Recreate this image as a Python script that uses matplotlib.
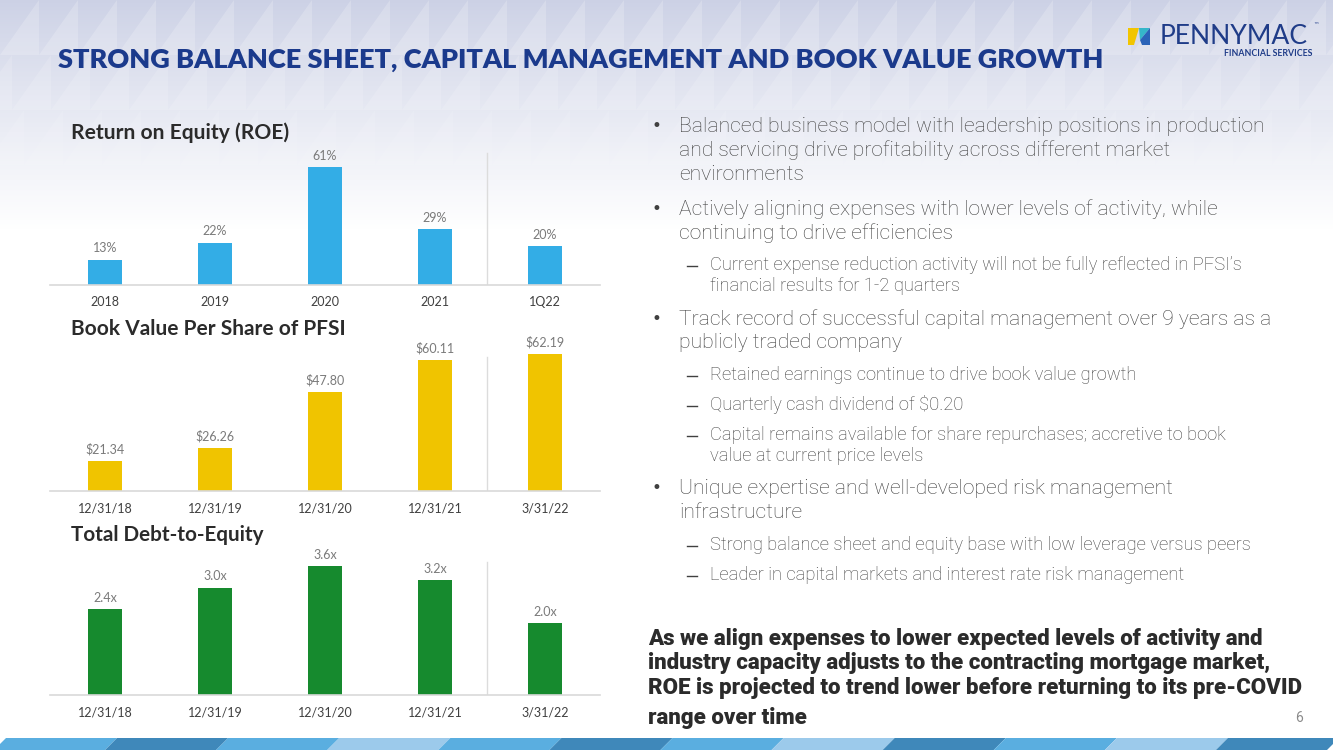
import numpy as np
import matplotlib.pyplot as plt
from matplotlib.patches import Polygon, Rectangle

# chart data
roe_labels = ['2018', '2019', '2020', '2021', '1Q22']
roe_values = [13, 22, 61, 29, 20]

bv_labels = ['12/31/18', '12/31/19', '12/31/20', '12/31/21', '3/31/22']
bv_values = [21.34, 26.26, 47.80, 60.11, 62.19]

de_labels = ['12/31/18', '12/31/19', '12/31/20', '12/31/21', '3/31/22']
de_values = [2.4, 3.0, 3.6, 3.2, 2.0]

title = 'STRONG BALANCE SHEET, CAPITAL MANAGEMENT AND BOOK VALUE GROWTH'

bullets = [
    (0, ['Balanced business model with leadership positions in production',
         'and servicing drive profitability across different market',
         'environments'], [126, 150, 175]),
    (0, ['Actively aligning expenses with lower levels of activity, while',
         'continuing to drive efficiencies'], [209, 233]),
    (1, ['Current expense reduction activity will not be fully reflected in PFSI\u2019s',
         'financial results for 1-2 quarters'], [265, 286]),
    (0, ['Track record of successful capital management over 9 years as a',
         'publicly traded company'], [319, 343]),
    (1, ['Retained earnings continue to drive book value growth'], [375]),
    (1, ['Quarterly cash dividend of $0.20'], [405]),
    (1, ['Capital remains available for share repurchases; accretive to book',
         'value at current price levels'], [435, 456]),
    (0, ['Unique expertise and well-developed risk management',
         'infrastructure'], [488, 513]),
    (1, ['Strong balance sheet and equity base with low leverage versus peers'], [545]),
    (1, ['Leader in capital markets and interest rate risk management'], [575]),
]

closing = ['As we align expenses to lower expected levels of activity and',
           'industry capacity adjusts to the contracting mortgage market,',
           'ROE is projected to trend lower before returning to its pre-COVID',
           'range over time']
closing_y = [639, 663, 688, 718]

W, H = 1333, 750
fig = plt.figure(figsize=(W / 100, H / 100), dpi=100)
renderer = fig.canvas.get_renderer()


def fit(t, width):
    w = t.get_window_extent(renderer=renderer).width
    t.set_fontsize(t.get_fontsize() * width / w)
    return t.get_fontsize()


# background layer in pixel coordinates
bg = fig.add_axes([0, 0, 1, 1], zorder=0)
bg.set_xlim(0, W)
bg.set_ylim(H, 0)
bg.axis('off')

grad = np.linspace(0, 1, 230)[:, None]
top_col = np.array([0.80, 0.82, 0.90])
img = top_col + (1 - top_col) * np.clip(grad ** 0.9, 0, 1)[..., None]
img = np.repeat(img, 2, axis=1)
bg.imshow(img, extent=[0, W, 230, 0], aspect='auto', zorder=0)
bg.add_patch(Rectangle((0, 230), W, H - 230, color='white', zorder=0))

# faint triangle pattern in the header
tw, th = 39, 55
for row in range(4):
    for i in range(-2, W // tw + 3):
        x = i * tw + row * 12
        y = row * th
        a = 0.4 * (1 - row / 4)
        bg.add_patch(Polygon([(x, y + th), (x + tw, y), (x + tw, y + th)],
                             closed=True, color='white', alpha=a * 0.5,
                             lw=0, zorder=1))

# bottom band
band_cols = ['#5aaee0', '#3f88ba', '#5aaee0', '#9ccaeb', '#5aaee0', '#3f88ba',
             '#5aaee0', '#9ccaeb', '#3f88ba', '#5aaee0', '#9ccaeb', '#3f88ba']
seg = W / len(band_cols)
for i, c in enumerate(band_cols):
    x0 = i * seg
    bg.add_patch(Polygon([(x0 - 6, 750), (x0 + 6, 738), (x0 + seg + 6, 738),
                          (x0 + seg - 6, 750)], closed=True, color=c, lw=0, zorder=2))

# title
t = bg.text(58, 60, title, fontsize=20, fontweight='heavy', family='Lato',
            color='#1b3a8c', va='center', ha='left', zorder=5)
fit(t, 1047)

# logo
bg.add_patch(Polygon([(1128, 28), (1139, 28), (1134, 45), (1128, 45)], color='#f2c500', lw=0, zorder=5))
bg.add_patch(Polygon([(1139, 28), (1150, 28), (1140, 40)], color='#35b6c9', lw=0, zorder=5))
bg.add_patch(Polygon([(1140, 40), (1150, 28), (1150, 45), (1142, 45)], color='#2a63b8', lw=0, zorder=5))
t = bg.text(1160, 37, 'PENNYMAC', fontsize=16, family='Lato', color='#1f3c88',
            va='center', ha='left', zorder=5)
fit(t, 148)
bg.text(1313, 25, '\u2122', fontsize=4, color='#1f3c88', ha='left', va='center', zorder=5)
t = bg.text(1224, 54, 'FINANCIAL SERVICES', fontsize=6, fontweight='bold', family='Lato',
            color='#1f3c88', va='center', ha='left', zorder=5)
fit(t, 88)


def px_axes(x0, y0, x1, y1):
    ax = fig.add_axes([x0 / W, 1 - y1 / H, (x1 - x0) / W, (y1 - y0) / H], zorder=3)
    ax.patch.set_alpha(0)
    return ax


def bar_panel(ax, labels, values, color, fmt, ylim, sep_top, name, name_y, name_w):
    x = np.arange(len(values))
    ax.bar(x, values, width=0.31, color=color, zorder=2)
    for xi, v in zip(x, values):
        ax.annotate(fmt(v), (xi, v), xytext=(0, 4), textcoords='offset points',
                    ha='center', va='bottom', fontsize=9, color='#7a7a7a', family='Lato')
    ax.set_xlim(-0.5, 4.5)
    ax.set_ylim(*ylim)
    ax.axvline(3.47, ymin=0, ymax=sep_top, color='#dcdcdc', lw=1)
    for s in ['top', 'right', 'left']:
        ax.spines[s].set_visible(False)
    ax.spines['bottom'].set_color('#d9d9d9')
    ax.spines['bottom'].set_linewidth(1.2)
    ax.set_yticks([])
    ax.set_xticks(x)
    ax.set_xticklabels(labels, fontsize=9, color='#404040', family='Lato')
    ax.tick_params(axis='x', length=0, pad=8)
    t = bg.text(71, name_y, name, fontsize=12.5, fontweight='bold', family='Lato',
                color='#2b2b2b', va='center', ha='left', zorder=5)
    fit(t, name_w)


ax1 = px_axes(50, 150, 600, 285)
bar_panel(ax1, roe_labels, roe_values, '#33ade6', lambda v: f'{v}%',
          (0, 70), 0.98, 'Return on Equity (ROE)', 133, 218)

ax2 = px_axes(50, 340, 600, 491)
bar_panel(ax2, bv_labels, bv_values, '#f0c400', lambda v: f'${v:.2f}',
          (10, 67.6), 0.89, 'Book Value Per Share of PFSI', 329, 275)

ax3 = px_axes(50, 550, 600, 695)
bar_panel(ax3, de_labels, de_values, '#168a2e', lambda v: f'{v:.1f}x',
          (0, 4.05), 0.92, 'Total Debt-to-Equity', 535, 193)

# bullet text
main_txt, sub_txt = [], []
for level, lines, ys in bullets:
    if level == 0:
        bg.text(651, ys[0], '\u2022', fontsize=12, color='#404040', va='center', ha='left', zorder=5)
        for ln, y in zip(lines, ys):
            main_txt.append(bg.text(679, y, ln, fontsize=15, family='Roboto', fontweight='light',
                                    color='#404040', va='center', ha='left', zorder=5))
    else:
        bg.plot([687, 697], [ys[0] + 1, ys[0] + 1], color='#404040', lw=1, zorder=5)
        for ln, y in zip(lines, ys):
            sub_txt.append(bg.text(710, y, ln, fontsize=12, family='Roboto', fontweight='light',
                                   color='#404040', va='center', ha='left', zorder=5))

fs = fit(main_txt[0], 589)
for t in main_txt:
    t.set_fontsize(fs)
ref = [t for t in sub_txt if t.get_text().startswith('Strong')][0]
fs = fit(ref, 541)
for t in sub_txt:
    t.set_fontsize(fs)

cl_txt = []
for ln, y in zip(closing, closing_y):
    cl_txt.append(bg.text(648, y, ln, fontsize=15, family='Roboto', fontweight='heavy',
                          color='#2b2b2b', va='center', ha='left', zorder=5))
fs = fit(cl_txt[2], 654)
for t in cl_txt:
    t.set_fontsize(fs)

bg.text(1303, 718, '6', fontsize=10, family='Roboto', color='#8a8a8a', va='center', ha='right', zorder=5)

fig.savefig('out.png', dpi=100)
